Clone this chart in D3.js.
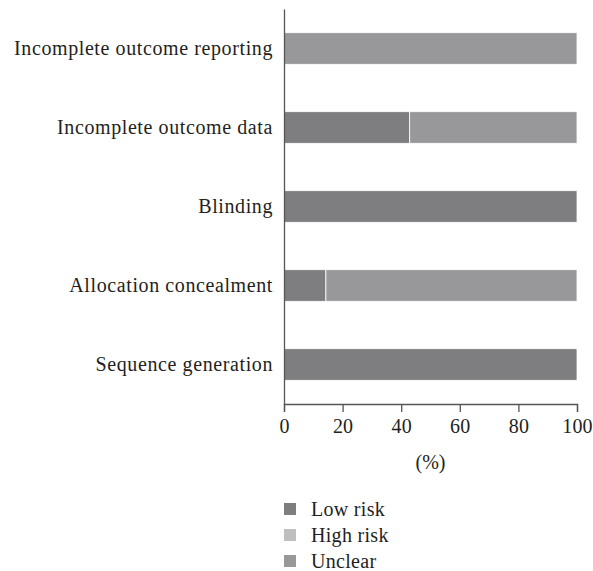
<!DOCTYPE html>
<html>
<head>
<meta charset="utf-8">
<script src="https://cdn.jsdelivr.net/npm/d3@7"></script>
<style>
  body { margin: 0; background: #fff; }
  text { font-family: "Liberation Serif", "DejaVu Serif", serif; fill: #231f20; }
</style>
</head>
<body>
<div id="chart-container"></div>
<script>
// Data
const categories = ["Incomplete outcome reporting", "Incomplete outcome data", "Blinding", "Allocation concealment", "Sequence generation"];
const seriesNames = ["Low risk", "High risk", "Unclear"];
const lowRisk = [0, 42.9, 100, 14.3, 100];
const highRisk = [0, 0, 0, 0, 0];
const unclear = [100, 57.1, 0, 85.7, 0];
const xTicks = [0, 20, 40, 60, 80, 100];

const colors = ["#7e7e80", "#bfbfc0", "#98989b"];

// Chart dimensions
const width = 593;
const height = 571;
const marginTop = 9;
const marginBottom = 167;
const marginLeft = 284;
const marginRight = 16;

const rows = categories.map((c, i) => ({
  category: c, "Low risk": lowRisk[i], "High risk": highRisk[i], "Unclear": unclear[i]
}));
const stacked = d3.stack().keys(seriesNames)(rows);

const x = d3.scaleLinear()
    .domain([0, 100])
    .range([marginLeft, width - marginRight]);

const y = d3.scaleBand()
    .domain(categories)
    .range([marginTop, height - marginBottom])
    .paddingInner(0.6)
    .paddingOuter(0.3);

const color = d3.scaleOrdinal().domain(seriesNames).range(colors);

const svg = d3.create("svg")
    .attr("width", width)
    .attr("height", height);

// Bars
svg.append("g")
  .selectAll("g")
  .data(stacked)
  .join("g")
    .attr("fill", d => color(d.key))
  .selectAll("rect")
  .data(d => d)
  .join("rect")
    .attr("x", d => x(d[0]))
    .attr("y", d => y(d.data.category))
    .attr("width", d => x(d[1]) - x(d[0]))
    .attr("height", y.bandwidth())
    .attr("stroke", "#fff")
    .attr("stroke-width", 0.8);

// x-axis
const xAxis = svg.append("g")
    .attr("transform", `translate(0,${height - marginBottom})`)
    .call(d3.axisBottom(x).tickValues(xTicks).tickSize(8).tickPadding(7));
xAxis.select(".domain").attr("stroke", "#555").attr("stroke-width", 1.3);
xAxis.selectAll(".tick line").attr("stroke", "#555").attr("stroke-width", 1.3);
xAxis.selectAll(".tick text").attr("font-size", 20).attr("fill", "#231f20")
    .style("font-family", "Liberation Serif, serif")
    .style("letter-spacing", "0.2px");

// y-axis
const yAxis = svg.append("g")
    .attr("transform", `translate(${marginLeft},0)`)
    .call(d3.axisLeft(y).tickSize(0).tickPadding(11));
yAxis.select(".domain").attr("stroke", "#555").attr("stroke-width", 1.3);
yAxis.selectAll(".tick text").attr("font-size", 20).attr("fill", "#231f20")
    .style("font-family", "Liberation Serif, serif")
    .style("letter-spacing", "0.6px");

// x-axis title
svg.append("text")
    .attr("x", x(50))
    .attr("y", 469)
    .attr("text-anchor", "middle")
    .attr("font-size", 20)
    .text("(%)");

// Legend
const legend = svg.append("g")
  .selectAll("g")
  .data(seriesNames)
  .join("g")
    .attr("transform", (d, i) => `translate(284,${503 + i * 26})`);
legend.append("rect")
    .attr("width", 12)
    .attr("height", 12)
    .attr("fill", d => color(d));
legend.append("text")
    .attr("x", 27)
    .attr("y", 13)
    .attr("font-size", 20)
    .style("letter-spacing", "0.3px")
    .text(d => d);

d3.select("#chart-container").append(() => svg.node());
</script>
</body>
</html>
